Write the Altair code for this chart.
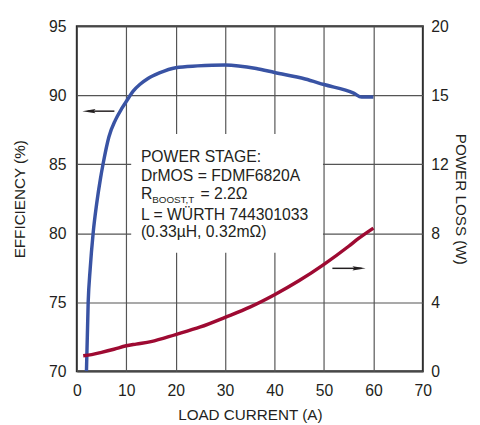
import altair as alt
import pandas as pd

# ---- data ----
eff_current = [1.95, 2.3, 2.7, 3.3, 4.0, 4.8, 5.3, 6.5, 7.8, 9.1, 10, 11.4, 12.8, 14.4, 16.7,
               20, 24.4, 30, 36.3, 40, 46.2, 50, 56, 57.6, 60]
efficiency = [70.0, 75.0, 77.4, 80.0, 82.1, 84.0, 85.0, 87.0, 88.2, 89.05, 89.55, 90.3, 90.8, 91.22, 91.62,
              92.0, 92.13, 92.2, 91.94, 91.65, 91.18, 90.78, 90.16, 89.87, 89.87]

loss_current = [1.3, 3, 5, 7.5, 10, 12, 15, 20, 25, 30, 35, 40, 45, 50, 55, 57, 60]
power_loss = [0.9, 0.97, 1.1, 1.28, 1.48, 1.58, 1.72, 2.13, 2.57, 3.13, 3.72, 4.44, 5.26, 6.2, 7.25, 7.7, 8.3]

x_ticks = [0, 10, 20, 30, 40, 50, 60, 70]
eff_ticks = [70, 75, 80, 85, 90, 95]
loss_ticks = [0, 4, 8, 12, 16, 20]
loss_tick_labels = ["0", "4", "8", "12", "15", "20"]   # as printed on the reference

note_lines = ["POWER STAGE:", "DrMOS = FDMF6820A", "L = WÜRTH 744301033", "(0.33µH, 0.32mΩ)"]

FONT = "Liberation Sans"
INK = "#231f20"
BLUE = "#3953a4"
RED = "#9e0a32"

eff_df = pd.DataFrame({"current": eff_current, "eff": efficiency})
loss_df = pd.DataFrame({"current": loss_current, "loss": power_loss})

xscale = alt.Scale(domain=[0, 70], nice=False, zero=False)
yl = alt.Scale(domain=[70, 95], nice=False, zero=False)
yr = alt.Scale(domain=[0, 20], nice=False, zero=False)

label_map = "{" + ", ".join(f"'{v}': '{t}'" for v, t in zip(loss_ticks, loss_tick_labels)) + "}"

x_axis = alt.Axis(values=x_ticks, title="LOAD CURRENT (A)", grid=True, ticks=False, domain=False,
                  labelFlush=False, labelPadding=12, titlePadding=9)
yl_axis = alt.Axis(values=eff_ticks, title="EFFICIENCY (%)", grid=True, ticks=False, domain=False,
                   labelFlush=False, labelPadding=11, titlePadding=21)
yr_axis = alt.Axis(values=loss_ticks, title="POWER LOSS (W)", orient="right", grid=False, ticks=False,
                   domain=False, labelFlush=False, labelPadding=8, titlePadding=4,
                   labelExpr=f"{label_map}[datum.label]")


def X(field):
    # every layer carries the same x axis definition so they merge into one axis
    return alt.X(field, scale=xscale, axis=x_axis)


def YL(field):
    return alt.Y(field, scale=yl, axis=None)


def YR(field):
    return alt.Y(field, scale=yr, axis=None)


eff_line = alt.Chart(eff_df).mark_line(color=BLUE, strokeWidth=3.5, interpolate="monotone",
                                       clip=True).encode(
    x=X("current:Q"),
    y=alt.Y("eff:Q", scale=yl, axis=yl_axis),
)

box = alt.Chart(pd.DataFrame({"a": [11.0], "a2": [49.8], "e": [78.6], "e2": [87.2]})).mark_rect(
    color="white").encode(x=X("a:Q"), x2="a2:Q", y=YL("e:Q"), y2="e2:Q")

text_df = pd.DataFrame({"t": note_lines, "a": [12.96] * 4, "e": [85.15, 83.8, 81.0, 79.72]})
notes = alt.Chart(text_df).mark_text(align="left", baseline="alphabetic", font=FONT, fontSize=16,
                                     color=INK).encode(x=X("a:Q"), y=YL("e:Q"), text="t:N")

r_df = pd.DataFrame({"t": ["R", "= 2.2Ω"], "a": [12.96, 25.0], "e": [82.45, 82.45]})
rtext = alt.Chart(r_df).mark_text(align="left", baseline="alphabetic", font=FONT, fontSize=16,
                                  color=INK).encode(x=X("a:Q"), y=YL("e:Q"), text="t:N")

sub_df = pd.DataFrame({"t": ["BOOST,T"], "a": [15.25], "e": [82.2]})
subtext = alt.Chart(sub_df).mark_text(align="left", baseline="alphabetic", font=FONT, fontSize=10,
                                      color=INK).encode(x=X("a:Q"), y=YL("e:Q"), text="t:N")

arrow_l = alt.Chart(pd.DataFrame({"a": [2.2], "a2": [7.6], "e": [88.85]})).mark_rule(
    color=INK, strokeWidth=1.5).encode(x=X("a:Q"), x2="a2:Q", y=YL("e:Q"))
head_l = alt.Chart(pd.DataFrame({"a": [2.45], "e": [88.85]})).mark_point(
    shape="M -1 0 L 1 -0.32 L 0.7 0 L 1 0.32 Z", size=180, filled=True, color=INK, opacity=1,
    strokeWidth=0).encode(x=X("a:Q"), y=YL("e:Q"))

loss_line = alt.Chart(loss_df).mark_line(color=RED, strokeWidth=3.5, interpolate="monotone").encode(
    x=X("current:Q"),
    y=alt.Y("loss:Q", scale=yr, axis=yr_axis),
)
arrow_r = alt.Chart(pd.DataFrame({"a": [51.7], "a2": [57.6], "w": [5.97]})).mark_rule(
    color=INK, strokeWidth=1.5).encode(x=X("a:Q"), x2="a2:Q", y=YR("w:Q"))
head_r = alt.Chart(pd.DataFrame({"a": [57.1], "w": [5.97]})).mark_point(
    shape="M 1 0 L -1 -0.32 L -0.7 0 L -1 0.32 Z", size=180, filled=True, color=INK, opacity=1,
    strokeWidth=0).encode(x=X("a:Q"), y=YR("w:Q"))

chart = alt.layer(
    eff_line, box, notes, rtext, subtext, arrow_l, head_l, loss_line, arrow_r, head_r
).resolve_scale(y="independent").properties(
    width=352, height=351,
    autosize=alt.AutoSizeParams(type="none"),
    padding={"left": 70, "top": 15, "right": 50, "bottom": 51},
).configure_view(
    stroke="#222222", strokeWidth=2
).configure_axis(
    gridColor="#555555", gridWidth=1.2, gridOpacity=1,
    labelFont=FONT, labelFontSize=16, labelColor=INK,
    titleFont=FONT, titleFontSize=15.5, titleFontWeight="normal", titleColor=INK,
)

chart.save("out.html", embed_options={"renderer": "svg", "actions": False})
